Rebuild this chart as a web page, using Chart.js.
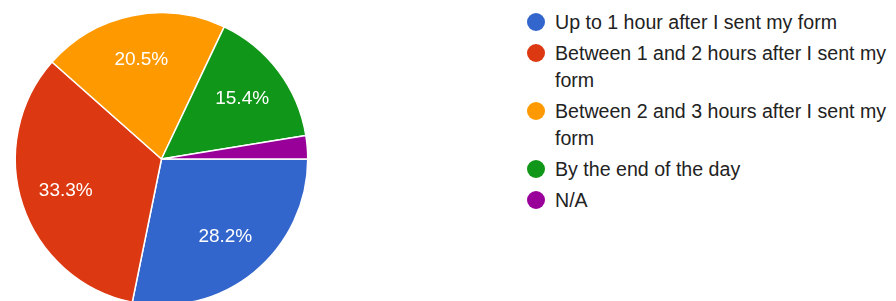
<!DOCTYPE html>
<html>
<head>
<meta charset="utf-8">
<script src="https://cdn.jsdelivr.net/npm/chart.js@4"></script>
<style>
  html, body { margin: 0; padding: 0; background: #fff; width: 896px; height: 301px; overflow: hidden; }
  #pieWrap { position: absolute; left: 0; top: 0; width: 323px; height: 318px; }
  #legend { position: absolute; left: 527px; top: 8.5px; width: 369px; margin: 0; padding: 0; list-style: none;
    font-family: "Liberation Sans", Arial, sans-serif; font-size: 19.6px; color: #222; }
  #legend li { position: relative; padding-left: 28px; line-height: 27px; margin-bottom: 4px; }
  #legend li span.dot { position: absolute; left: 0; top: 4.5px; width: 18px; height: 18px; border-radius: 50%; }
</style>
</head>
<body>
<div id="pieWrap"><canvas id="c"></canvas></div>
<ul id="legend"></ul>
<script>
const categories = [
  "Up to 1 hour after I sent my form",
  "Between 1 and 2 hours after I sent my form",
  "Between 2 and 3 hours after I sent my form",
  "By the end of the day",
  "N/A"
];
const responses = [11, 13, 8, 6, 1];
const colors = ["#3366cc", "#dc3912", "#ff9900", "#109618", "#990099"];

const total = responses.reduce((a, b) => a + b, 0);

const labelPlugin = {
  id: 'sliceLabels',
  afterDatasetsDraw(chart) {
    const ctx = chart.ctx;
    const meta = chart.getDatasetMeta(0);
    ctx.save();
    ctx.fillStyle = '#ffffff';
    ctx.font = '19px "Liberation Sans", Arial, sans-serif';
    ctx.textAlign = 'center';
    ctx.textBaseline = 'middle';
    meta.data.forEach((arc, i) => {
      const pct = responses[i] / total * 100;
      if (pct < 5) return;
      const p = arc.getProps(['x', 'y', 'startAngle', 'endAngle', 'outerRadius'], true);
      const mid = (p.startAngle + p.endAngle) / 2;
      const r = p.outerRadius * 0.69;
      ctx.fillText(pct.toFixed(1) + '%', p.x + Math.cos(mid) * r, p.y + Math.sin(mid) * r);
    });
    ctx.restore();
  }
};

new Chart(document.getElementById('c'), {
  type: 'pie',
  data: {
    labels: categories,
    datasets: [{
      data: responses,
      backgroundColor: colors,
      borderColor: '#ffffff',
      borderWidth: 1.5
    }]
  },
  options: {
    responsive: true,
    maintainAspectRatio: false,
    animation: false,
    rotation: 90,
    layout: { padding: { left: 14, right: 14, top: 12, bottom: 12 } },
    plugins: { legend: { display: false }, tooltip: { enabled: false } }
  },
  plugins: [labelPlugin]
});

const legend = document.getElementById('legend');
categories.forEach((name, i) => {
  const li = document.createElement('li');
  const dot = document.createElement('span');
  dot.className = 'dot';
  dot.style.background = colors[i];
  li.appendChild(dot);
  li.appendChild(document.createTextNode(name));
  legend.appendChild(li);
});
</script>
</body>
</html>
